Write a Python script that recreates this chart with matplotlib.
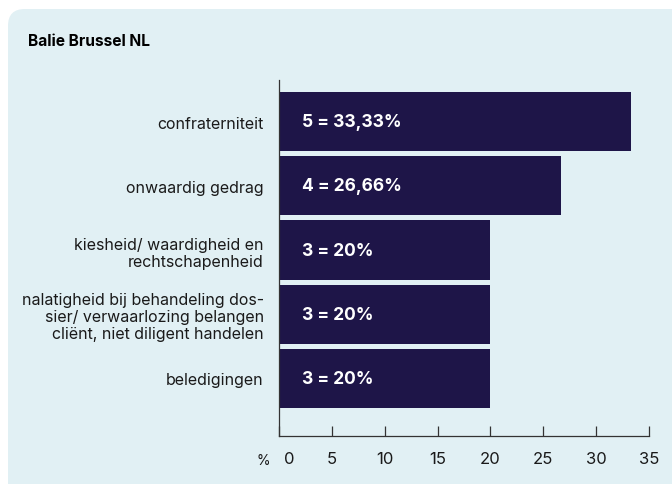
import matplotlib.pyplot as plt
from matplotlib.patches import FancyBboxPatch
from matplotlib.transforms import ScaledTranslation

categories = [
    "confraterniteit",
    "onwaardig gedrag",
    "kiesheid/ waardigheid en\nrechtschapenheid",
    "nalatigheid bij behandeling dos-\nsier/ verwaarlozing belangen\ncliënt, niet diligent handelen",
    "beledigingen",
]
counts = [5, 4, 3, 3, 3]
percentages = [33.33, 26.66, 20, 20, 20]
xticks = [0, 5, 10, 15, 20, 25, 30, 35]

BAR = "#1e1548"
PANEL = "#e1f0f4"
INK = "#1a1a1a"

plt.rcParams["font.family"] = ["Inter", "DejaVu Sans"]


def fmt_pct(p):
    s = f"{p:.2f}".rstrip("0").rstrip(".")
    return s.replace(".", ",")


fig = plt.figure(figsize=(6.72, 4.85), dpi=100)
fig.patch.set_facecolor("white")

# light rounded panel behind everything
panel = FancyBboxPatch((8 / 672, -0.1), 1.2, 1.1 - 10 / 485,
                       boxstyle="round,pad=0,rounding_size=0.025",
                       transform=fig.transFigure, facecolor=PANEL,
                       edgecolor="none", zorder=-10, mutation_aspect=672 / 485)
fig.patches.append(panel)

fig.text(28 / 672, 1 - 42 / 485, "Balie Brussel NL", fontsize=11.2,
         fontweight="bold", color="black", va="center", ha="left")

ax = fig.add_axes([279 / 672, 1 - 437 / 485, 370 / 672, 356 / 485])
ax.set_facecolor("none")

ypos = list(range(len(categories)))
ax.barh(ypos, percentages, height=0.92, color=BAR, zorder=2)

for y, n, p in zip(ypos, counts, percentages):
    ax.text(2.2, y, f"{n} = {fmt_pct(p)}%", color="white", fontsize=12.5,
            fontweight="bold", va="center", ha="left", zorder=3)

ax.set_xlim(0, 35)
ax.set_ylim(4.895, -0.646)

ax.set_yticks(ypos)
ax.set_yticklabels(categories, fontsize=11.5, color=INK, linespacing=1.18)
ax.tick_params(axis="y", length=0, pad=11)

ax.set_xticks(xticks)
ax.set_xticklabels([str(t) for t in xticks], fontsize=12, color=INK)
ax.tick_params(axis="x", direction="in", length=7, width=0.9,
               color="#333333", pad=11)
# the zero label sits a little right of its tick, clear of the "%" sign
zero = ax.get_xticklabels()[0]
zero.set_transform(zero.get_transform() + ScaledTranslation(10 / 100, 0, fig.dpi_scale_trans))

for side in ("top", "right"):
    ax.spines[side].set_visible(False)
for side in ("left", "bottom"):
    ax.spines[side].set_color("#333333")
    ax.spines[side].set_linewidth(0.9)

fig.text(263 / 672, 1 - 461 / 485, "%", fontsize=10, color=INK,
         ha="center", va="center")

fig.savefig("out.png", dpi=100, facecolor=fig.get_facecolor())
